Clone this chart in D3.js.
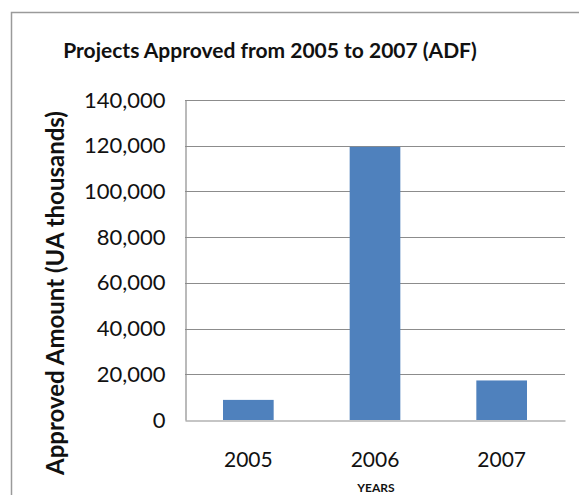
<!DOCTYPE html>
<html>
<head>
<meta charset="utf-8">
<script src="https://cdn.jsdelivr.net/npm/d3@7"></script>
<style>
  html, body { margin: 0; padding: 0; background: #fff; }
  svg { display: block; }
  text { font-family: Lato, "Open Sans", sans-serif; fill: #111; }
</style>
</head>
<body>
<svg id="chart" width="579" height="495"></svg>
<script>
// Approved ADF project amounts per year (UA thousands)
const years = ["2005", "2006", "2007"];
const amounts = [8800, 119500, 17300];
const yTicks = [0, 20000, 40000, 60000, 80000, 100000, 120000, 140000];

const svg = d3.select("#chart");
const W = 579, H = 495;
const plot = { left: 185, right: 565, top: 100, bottom: 420 };

// outer frame (continues past the right and bottom edges)
svg.append("rect")
  .attr("x", 11.5).attr("y", 12.5)
  .attr("width", W + 20).attr("height", H + 20)
  .attr("fill", "#fff")
  .attr("stroke", "#9a9a9a").attr("stroke-width", 1.5);

const x = d3.scaleBand()
  .domain(years)
  .range([plot.left, plot.right])
  .paddingInner(0.6)
  .paddingOuter(0.3);

const y = d3.scaleLinear()
  .domain([0, 140000])
  .range([plot.bottom, plot.top]);

// horizontal gridlines
svg.append("g")
  .selectAll("line")
  .data(yTicks.filter(d => d > 0))
  .join("line")
  .attr("x1", plot.left).attr("x2", plot.right)
  .attr("y1", d => Math.round(y(d)) + 0.5)
  .attr("y2", d => Math.round(y(d)) + 0.5)
  .attr("stroke", "#8c8c8c").attr("stroke-width", 1.2);

// bars
svg.append("g")
  .selectAll("rect")
  .data(years.map((yr, i) => ({ yr, v: amounts[i] })))
  .join("rect")
  .attr("x", d => x(d.yr))
  .attr("width", x.bandwidth())
  .attr("y", d => y(d.v))
  .attr("height", d => y(0) - y(d.v))
  .attr("fill", "#4f81bd");

// y axis
const yAxis = svg.append("g")
  .attr("transform", `translate(${plot.left + 0.5},0)`)
  .call(d3.axisLeft(y).tickValues(yTicks).tickSize(0).tickPadding(20)
    .tickFormat(d3.format(",")));
yAxis.select(".domain").attr("stroke", "#8c8c8c").attr("stroke-width", 1.2);
yAxis.selectAll("text")
  .style("font-family", "Lato, sans-serif")
  .style("font-size", "22px")
  .attr("fill", "#111");

// x axis
const xAxis = svg.append("g")
  .attr("transform", `translate(0,${plot.bottom + 0.5})`)
  .call(d3.axisBottom(x).tickSize(0).tickPadding(32));
xAxis.select(".domain").attr("stroke", "#8c8c8c").attr("stroke-width", 1.2);
xAxis.selectAll("text")
  .style("font-family", "Lato, sans-serif")
  .style("font-size", "21px")
  .attr("fill", "#111");

// title
svg.append("text")
  .attr("x", 270).attr("y", 58)
  .attr("text-anchor", "middle")
  .style("font-size", "21px")
  .style("font-weight", "bold")
  .text("Projects Approved from 2005 to 2007 (ADF)");

// axis titles
svg.append("text")
  .attr("transform", `translate(64,${293}) rotate(-90)`)
  .attr("text-anchor", "middle")
  .style("font-size", "24px")
  .style("font-weight", "bold")
  .text("Approved Amount (UA thousands)");

svg.append("text")
  .attr("x", 376).attr("y", 492)
  .attr("text-anchor", "middle")
  .style("font-size", "12px")
  .style("font-weight", "bold")
  .text("YEARS");
</script>
</body>
</html>
